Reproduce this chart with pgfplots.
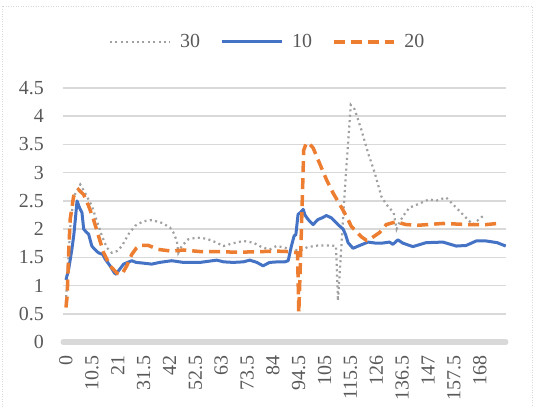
\documentclass[border=0pt]{standalone}
\usepackage{fontspec}
\setmainfont{Liberation Serif}
\usepackage{pgfplots}
\pgfplotsset{compat=1.18}

\definecolor{c10}{HTML}{4472C4}
\definecolor{c20}{HTML}{ED7D31}
\definecolor{c30}{HTML}{A0A0A0}
\definecolor{txt}{HTML}{595959}
\definecolor{gridc}{HTML}{D9D9D9}

\begin{document}
\begin{tikzpicture}
\path[use as bounding box] (0,0) rectangle (541bp,407bp);
% chart frame
\draw[gridc, line width=0.8bp, dash pattern=on 1bp off 1.5bp] (2bp,-5bp) -- (2bp,401bp) -- (532bp,401bp) -- (532bp,-5bp);
\begin{axis}[
  at={(63bp,65bp)}, anchor=south west,
  scale only axis, width=443bp, height=254bp,
  xmin=-1.2, xmax=178.6, ymin=0, ymax=4.5,
  ytick={0,0.5,1,1.5,2,2.5,3,3.5,4,4.5},
  xtick={0,10.5,21,31.5,42,52.5,63,73.5,84,94.5,105,115.5,126,136.5,147,157.5,168},
  xticklabels={0,10.5,21,31.5,42,52.5,63,73.5,84,94.5,105,115.5,126,136.5,147,157.5,168},
  /pgf/number format/assume math mode=true,
  ymajorgrids,
  major grid style={gridc, line width=1.6bp},
  major tick length=0pt,
  axis x line*=bottom, axis y line*=left,
  x axis line style={gridc, line width=5bp, line cap=round},
  y axis line style={draw=none},
  tick label style={font=\fontsize{20}{22}\selectfont, text=txt},
  yticklabel style={anchor=east, inner sep=0pt, xshift=-19bp},
  xticklabel style={yshift=-13bp, rotate=90, anchor=east, inner sep=0pt},
  legend columns=3,
  legend style={at={(0.462,1.182)}, anchor=center, draw=none, fill=none,
    font=\fontsize{20}{22}\selectfont, text=txt,
    /tikz/every odd column/.append style={column sep=7bp},
    /tikz/every even column/.append style={column sep=18bp}},
  legend image code/.code={\draw[#1] (0bp,0bp) -- (60bp,0bp);},
]
% series 30
\addplot[c30, line width=2.2bp, dash pattern=on 2bp off 3.4bp] coordinates {
(0,0.7) (1,1.5) (2,2.2) (3.5,2.6) (5.8,2.79) (7,2.7) (8.5,2.58) (10.5,2.41)
(12.6,2.14) (14.6,1.88) (16.6,1.67) (18.6,1.58) (20.7,1.61) (22.7,1.7) (25.4,1.91)
(28.1,2.06) (31.5,2.14) (34.8,2.16) (38.9,2.11) (42.2,2.03) (43.6,1.94) (45,1.79)
(45.6,1.58) (47,1.7) (49.7,1.82) (53.1,1.85) (57.1,1.83) (61.2,1.76) (63.9,1.7)
(67.9,1.75) (72,1.79) (76,1.76) (80,1.67) (82.7,1.64) (85.5,1.7) (88,1.68)
(91.5,1.64) (95,1.62) (98,1.68) (102.3,1.71) (107.7,1.71) (109.6,1.7) (110.4,0.73)
(111.5,1.5) (113.5,2.9) (115.6,4.2) (117.2,4.12) (119.9,3.76) (122.6,3.35)
(125.3,3.0) (128,2.58) (130,2.44) (133,2.29) (134.2,2.0) (135.2,2.1) (136.8,2.23)
(139.4,2.38) (142.8,2.44) (147.5,2.53) (150,2.5) (154.3,2.56) (158.4,2.38)
(162.4,2.2) (165.1,2.08) (169.2,2.23) (170,2.26)
};
\addlegendentry{30}
% series 10
\addplot[c10, line width=3bp, line join=round] coordinates {
(0,1.1) (1.1,1.29) (2.4,1.64) (3.2,1.9) (3.8,2.17) (4.5,2.5) (5.5,2.38) (6.5,2.29)
(7.2,2.0) (8.2,1.95) (9.2,1.91) (10.5,1.7) (11.5,1.65) (13.2,1.58) (15,1.55)
(15.9,1.47) (17.9,1.35) (19.7,1.22) (20.5,1.2) (21.3,1.26) (23.4,1.38) (26.7,1.44)
(28.5,1.41) (30.8,1.40) (34.8,1.38) (38,1.41) (42.9,1.44) (47.7,1.41) (54.4,1.41)
(61.2,1.45) (64,1.42) (67.9,1.41) (72,1.42) (74.6,1.45) (77.5,1.41) (80,1.35)
(82.7,1.41) (86,1.42) (88.8,1.42) (90.2,1.44) (90.8,1.56) (91.5,1.70) (92.6,1.88)
(93.3,1.9) (94.2,2.26) (95.3,2.3) (96.3,2.35) (97,2.25) (98.3,2.17) (100.3,2.08)
(102.3,2.17) (104,2.2) (105.7,2.24) (107.7,2.2) (110.4,2.08) (112.5,2.0) (113.5,1.9)
(114.5,1.76) (116.5,1.66) (119.2,1.71) (122.6,1.77) (126,1.75) (128,1.75)
(131.3,1.77) (132.7,1.73) (134.7,1.81) (136.8,1.75) (140.8,1.69) (146.2,1.76)
(153,1.77) (158.4,1.70) (162.4,1.71) (166.5,1.79) (170.5,1.79) (175,1.76) (178.5,1.70)
};
\addlegendentry{10}
% series 20
\addplot[c20, line width=3.5bp, dash pattern=on 11bp off 6bp] coordinates {
(0,0.61) (0.5,0.82) (1.1,1.58) (1.7,2.17) (3.1,2.58) (5.1,2.7) (7.2,2.61) (9.2,2.41)
(11.2,2.17) (13.2,1.88) (15.3,1.58) (17.9,1.35) (20.7,1.22) (22.7,1.2) (24.7,1.35)
(26.7,1.55) (28.5,1.66) (30.1,1.71) (33.5,1.71) (37.5,1.64) (42.9,1.61) (47.7,1.63)
(55,1.60) (62,1.60) (70,1.59) (78,1.60) (85.5,1.61) (91.5,1.6) (94,1.58)
(94.5,0.52) (95.5,1.9) (96.5,3.4) (97.5,3.52) (98.3,3.53) (100.3,3.44) (102.3,3.23)
(105.7,2.88) (108.4,2.64) (111.1,2.44) (113.8,2.23) (115.8,2.05) (117.9,1.95)
(120,1.86) (122,1.8) (124,1.84) (127.3,1.94) (130,2.08) (134,2.13) (138,2.08)
(143.5,2.07) (153,2.1) (163.8,2.08) (170.5,2.08) (175.2,2.1)
};
\addlegendentry{20}
\end{axis}
\end{tikzpicture}
\end{document}
